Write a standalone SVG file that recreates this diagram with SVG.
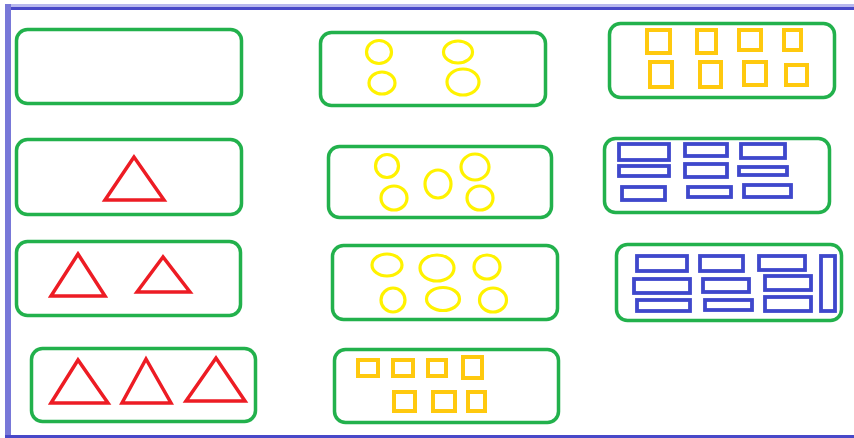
<svg xmlns="http://www.w3.org/2000/svg" width="854" height="438" viewBox="0 0 854 438">
<style>
.box{fill:none;stroke:#22b14c;stroke-width:3.5}
.tri{fill:none;stroke:#ed1c24;stroke-width:3.5;stroke-linejoin:miter}
.cir{fill:none;stroke:#fff200;stroke-width:3.2}
.sq{fill:none;stroke:#ffc90e;stroke-width:4}
.bl{fill:none;stroke:#3f48cc;stroke-width:3.8}
</style>
<rect x="0" y="0" width="854" height="438" fill="#ffffff"/>
<g id="frame">
<rect x="5" y="4" width="849" height="3" fill="#b8b8ee"/>
<rect x="5" y="7" width="849" height="3" fill="#4848c8"/>
<rect x="5" y="4" width="6" height="434" fill="#7878d8"/>
<rect x="5" y="435" width="849" height="3" fill="#4848c8"/>
</g>
<g id="connectors"></g>
<g id="n1"><rect class="box" x="16.5" y="29.5" width="225" height="74" rx="11"/></g>
<g id="n2"><rect class="box" x="16.5" y="139.5" width="225" height="75" rx="11"/>
<polygon class="tri" points="134,157 105,200 164,200"/></g>
<g id="n3"><rect class="box" x="16.5" y="241.5" width="224" height="74" rx="11"/>
<polygon class="tri" points="78,254 51,296 105,296"/>
<polygon class="tri" points="163,257 137,292 190,292"/></g>
<g id="n4"><rect class="box" x="31.5" y="348.5" width="224" height="73" rx="11"/>
<polygon class="tri" points="78,360 51,403 108,403"/>
<polygon class="tri" points="146,359 122,403 171,403"/>
<polygon class="tri" points="216,358 186,401 245,401"/></g>
<g id="n5"><rect class="box" x="320.5" y="32.5" width="225" height="73" rx="11"/>
<ellipse class="cir" cx="379" cy="52" rx="12.5" ry="11.5"/>
<ellipse class="cir" cx="382" cy="83" rx="13" ry="11"/>
<ellipse class="cir" cx="458" cy="52" rx="14.5" ry="11"/>
<ellipse class="cir" cx="463" cy="82" rx="16" ry="13"/></g>
<g id="n6"><rect class="box" x="328.5" y="146.5" width="223" height="71" rx="11"/>
<ellipse class="cir" cx="387" cy="166" rx="11.5" ry="11.5"/>
<ellipse class="cir" cx="394" cy="198" rx="13" ry="12"/>
<ellipse class="cir" cx="438" cy="184" rx="13" ry="14"/>
<ellipse class="cir" cx="475" cy="167" rx="14" ry="13"/>
<ellipse class="cir" cx="480" cy="198" rx="13" ry="12"/></g>
<g id="n7"><rect class="box" x="332.5" y="245.5" width="225" height="74" rx="11"/>
<ellipse class="cir" cx="387" cy="265" rx="15" ry="11"/>
<ellipse class="cir" cx="437" cy="268" rx="17" ry="13"/>
<ellipse class="cir" cx="487" cy="267" rx="13" ry="12"/>
<ellipse class="cir" cx="393" cy="300" rx="12" ry="12"/>
<ellipse class="cir" cx="443" cy="299" rx="16.5" ry="11.5"/>
<ellipse class="cir" cx="493" cy="300" rx="13.5" ry="12"/></g>
<g id="n8"><rect class="box" x="334.5" y="349.5" width="224" height="73" rx="11"/>
<rect class="sq" x="358" y="360" width="20" height="16"/>
<rect class="sq" x="393" y="360" width="20" height="16"/>
<rect class="sq" x="428" y="360" width="18" height="16"/>
<rect class="sq" x="463" y="357" width="19" height="21"/>
<rect class="sq" x="394" y="392" width="21" height="19"/>
<rect class="sq" x="433" y="392" width="22" height="19"/>
<rect class="sq" x="468" y="392" width="17" height="19"/></g>
<g id="n9"><rect class="box" x="609.5" y="23.5" width="225" height="74" rx="11"/>
<rect class="sq" x="647" y="30" width="23" height="23"/>
<rect class="sq" x="697" y="30" width="19" height="23"/>
<rect class="sq" x="739" y="30" width="22" height="20"/>
<rect class="sq" x="784" y="30" width="17" height="20"/>
<rect class="sq" x="650" y="62" width="22" height="25"/>
<rect class="sq" x="700" y="62" width="21" height="25"/>
<rect class="sq" x="744" y="62" width="22" height="23"/>
<rect class="sq" x="786" y="65" width="21" height="20"/></g>
<g id="n10"><rect class="box" x="604.5" y="138.5" width="225" height="74" rx="11"/>
<rect class="bl" x="619" y="144" width="50" height="16"/>
<rect class="bl" x="685" y="144" width="42" height="12"/>
<rect class="bl" x="741" y="144" width="44" height="14"/>
<rect class="bl" x="619" y="166" width="50" height="10"/>
<rect class="bl" x="685" y="164" width="42" height="13"/>
<rect class="bl" x="739" y="167" width="48" height="8"/>
<rect class="bl" x="622" y="187" width="43" height="13"/>
<rect class="bl" x="688" y="187" width="43" height="10"/>
<rect class="bl" x="744" y="185" width="47" height="12"/></g>
<g id="n11"><rect class="box" x="616.5" y="244.5" width="225" height="76" rx="11"/>
<rect class="bl" x="637" y="256" width="50" height="15"/>
<rect class="bl" x="700" y="256" width="43" height="15"/>
<rect class="bl" x="759" y="256" width="46" height="14"/>
<rect class="bl" x="634" y="279" width="56" height="14"/>
<rect class="bl" x="703" y="279" width="46" height="13"/>
<rect class="bl" x="765" y="276" width="46" height="14"/>
<rect class="bl" x="637" y="300" width="53" height="11"/>
<rect class="bl" x="705" y="300" width="47" height="10"/>
<rect class="bl" x="765" y="297" width="46" height="14"/>
<rect class="bl" x="821" y="256" width="14" height="55"/></g>
</svg>
